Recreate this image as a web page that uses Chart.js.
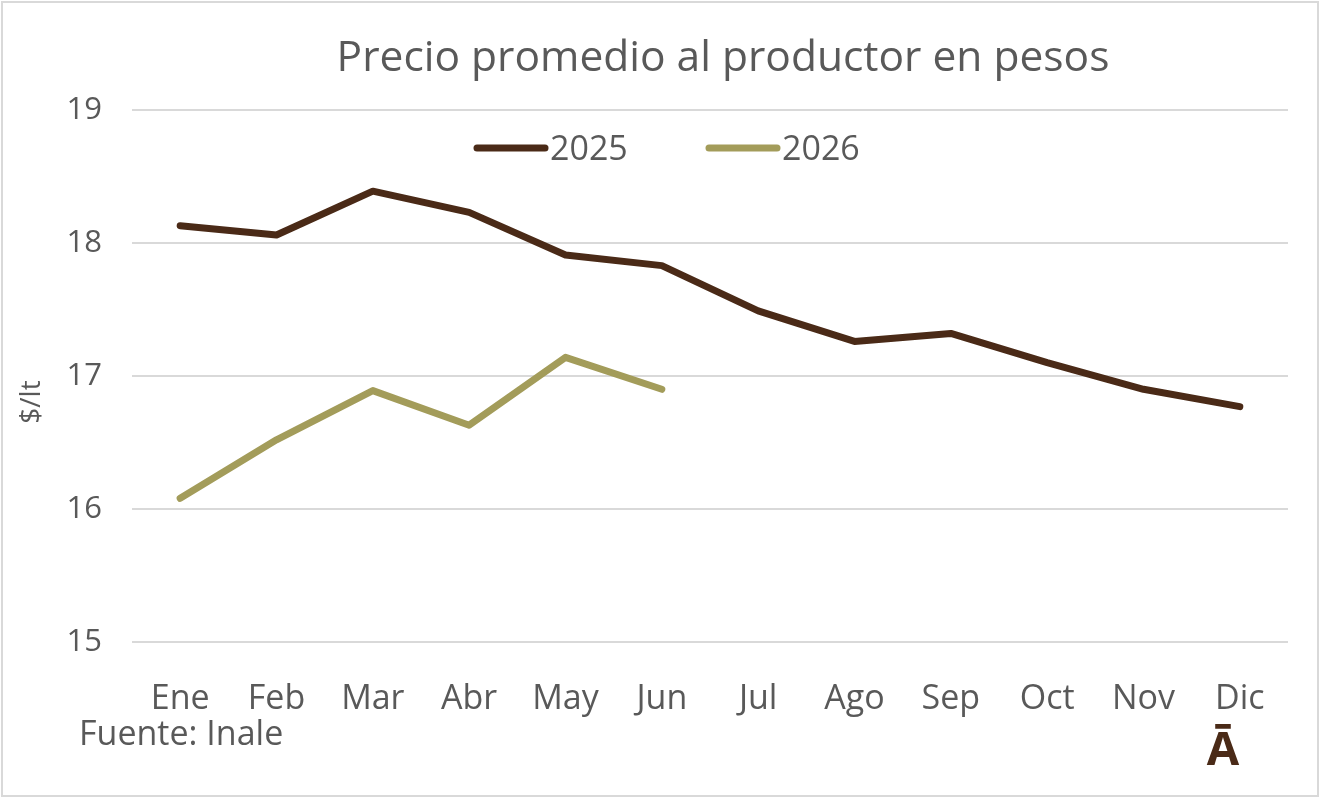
<!DOCTYPE html>
<html>
<head>
<meta charset="utf-8">
<script src="https://cdn.jsdelivr.net/npm/chart.js@4.4.1/dist/chart.umd.min.js"></script>
<style>
  html, body { margin: 0; padding: 0; background: #fff; }
  #wrap { width: 1320px; height: 798px; }
</style>
</head>
<body>
<div id="wrap"><canvas id="precioChart" width="1320" height="798"></canvas></div>
<script>
// chart values
const months = ['Ene', 'Feb', 'Mar', 'Abr', 'May', 'Jun', 'Jul', 'Ago', 'Sep', 'Oct', 'Nov', 'Dic'];
const precio2025 = [18.13, 18.06, 18.39, 18.23, 17.91, 17.83, 17.49, 17.26, 17.32, 17.10, 16.90, 16.77];
const precio2026 = [16.08, 16.52, 16.89, 16.63, 17.14, 16.90];
const seriesNames = ['2025', '2026'];
const yTicks = [15, 16, 17, 18, 19];

const FONT = '"Open Sans", sans-serif';
const TEXT_COLOR = '#595959';
const colors = { y2025: '#4a2a17', y2026: '#a39c5a' };

// title, legend, axis title, source note, logo and frame drawn on the canvas
const decorations = {
  id: 'decorations',
  beforeDraw(chart) {
    const { ctx, width, height } = chart;
    ctx.save();
    ctx.fillStyle = '#fff';
    ctx.fillRect(0, 0, width, height);
    ctx.restore();
  },
  afterDraw(chart) {
    const { ctx, width, height } = chart;
    ctx.save();

    ctx.strokeStyle = '#d9d9d9';
    ctx.lineWidth = 2;
    ctx.strokeRect(2, 2, width - 4, height - 4);

    ctx.fillStyle = TEXT_COLOR;
    ctx.textBaseline = 'middle';
    ctx.textAlign = 'center';
    ctx.font = `42.5px ${FONT}`;
    ctx.fillText('Precio promedio al productor en pesos', 723, 59);

    // y axis title
    ctx.save();
    ctx.translate(32, 402);
    ctx.rotate(-Math.PI / 2);
    ctx.font = `28px ${FONT}`;
    ctx.fillText('$/lt', 0, 0);
    ctx.restore();

    // legend
    ctx.font = `34px ${FONT}`;
    ctx.textAlign = 'left';
    const legendX = [474, 706];
    chart.data.datasets.forEach((ds, i) => {
      const x = legendX[i];
      ctx.strokeStyle = ds.borderColor;
      ctx.lineWidth = 7;
      ctx.lineCap = 'round';
      ctx.beginPath();
      ctx.moveTo(x + 3, 148);
      ctx.lineTo(x + 71, 148);
      ctx.stroke();
      ctx.fillStyle = TEXT_COLOR;
      ctx.fillText(ds.label, x + 76, 150);
    });

    ctx.fillStyle = TEXT_COLOR;
    ctx.font = `34px ${FONT}`;
    ctx.fillText('Fuente: Inale', 79, 735);

    ctx.fillStyle = colors.y2025;
    ctx.textAlign = 'center';
    ctx.font = `bold 47px ${FONT}`;
    ctx.fillText('Ā', 1223, 752);

    ctx.restore();
  }
};

new Chart(document.getElementById('precioChart'), {
  type: 'line',
  data: {
    labels: months,
    datasets: [
      {
        label: seriesNames[0],
        data: precio2025,
        borderColor: colors.y2025,
        backgroundColor: colors.y2025,
        borderWidth: 7,
        pointRadius: 0,
        tension: 0,
        borderCapStyle: 'round',
        borderJoinStyle: 'round'
      },
      {
        label: seriesNames[1],
        data: precio2026,
        borderColor: colors.y2026,
        backgroundColor: colors.y2026,
        borderWidth: 7,
        pointRadius: 0,
        tension: 0,
        borderCapStyle: 'round',
        borderJoinStyle: 'round'
      }
    ]
  },
  options: {
    responsive: false,
    animation: false,
    devicePixelRatio: 1,
    layout: { padding: { top: 110, right: 32, bottom: 0, left: 0 } },
    scales: {
      x: {
        offset: true,
        grid: { display: false, drawTicks: false },
        border: { display: false },
        ticks: {
          color: TEXT_COLOR,
          font: { family: FONT, size: 34 },
          padding: 37,
          maxRotation: 0,
          autoSkip: false
        },
        afterFit: scale => { scale.height = 156; }
      },
      y: {
        min: yTicks[0],
        max: yTicks[yTicks.length - 1],
        afterBuildTicks: scale => { scale.ticks = yTicks.map(v => ({ value: v })); },
        grid: { color: '#d9d9d9', lineWidth: 2, drawTicks: false },
        border: { display: false },
        ticks: {
          color: TEXT_COLOR,
          font: { family: FONT, size: 31 },
          padding: 30
        },
        afterFit: scale => { scale.width = 132; }
      }
    },
    plugins: {
      legend: { display: false },
      title: { display: false },
      tooltip: { enabled: false }
    }
  },
  plugins: [decorations]
});
</script>
</body>
</html>
